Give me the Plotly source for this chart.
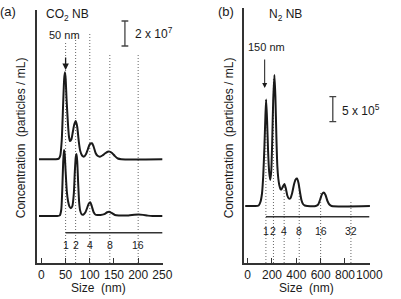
import plotly.graph_objects as go

W, H = 401, 299
FONT = "Arial, Liberation Sans, sans-serif"
INK = "#1a1a1a"

# ---------------- data: panel (a) CO2 NB (values in 1e7 particles/mL) -------
a_upper_size = [-5, 30, 36, 39, 42, 45, 47, 48.6, 50, 52, 54.6, 57, 59, 62, 65, 68, 71,
                74, 77, 80, 84, 88, 92, 96, 100, 104.6, 108, 112, 116, 121, 126, 132,
                137, 141, 146, 152, 158, 165, 250]
a_upper_conc = [0, 0, 0.05, 0.3, 1.5, 4.5, 6.4, 6.96, 6.5, 4.8, 3.0, 1.8, 1.46, 1.6, 2.2,
                2.8, 3.06, 2.6, 1.5, 0.7, 0.3, 0.21, 0.4, 0.8, 1.2, 1.28, 1.0, 0.5, 0.28,
                0.21, 0.3, 0.48, 0.6, 0.61, 0.5, 0.25, 0.06, 0, 0]
a_lower_size = [-5, 32, 38, 41, 43, 45, 46.6, 48, 50, 52.6, 55, 58, 61, 64, 67, 69, 71,
                72.6, 74, 76, 78, 80, 83, 87, 91, 95, 98, 101, 104, 108, 112, 116, 122,
                130, 136, 140, 145, 152, 160, 180, 192, 201, 210, 220, 230, 250]
a_lower_conc = [0, 0, 0.05, 0.5, 2.0, 4.3, 5.28, 5.0, 3.6, 1.94, 1.2, 0.75, 0.62, 0.8, 1.8,
                3.5, 4.7, 4.96, 4.4, 2.6, 1.1, 0.45, 0.14, 0.12, 0.3, 0.7, 1.0, 1.1, 0.8,
                0.3, 0.1, 0.08, 0.08, 0.15, 0.3, 0.34, 0.25, 0.08, 0.04, 0.05, 0.1, 0.12,
                0.09, 0.03, 0, 0]
a_offset = 4.54  # vertical stacking offset of the upper trace (1e7)
a_guide_sizes = [50, 70.7, 100, 141.4, 200]
a_guide_tops = [13.84, 14.64, 14.64, 12.88, 12.88]
a_guide_labels = ["1", "2", "4", "8", "16"]
a_ticks = [0, 50, 100, 150, 200, 250]

# ---------------- data: panel (b) N2 NB (values in 1e5 particles/mL) --------
b_size = [-20, 60, 90, 105, 118, 128, 138, 146, 152, 160, 168, 177, 186, 194, 202, 210,
          220, 228, 236, 244, 252, 260, 270, 278, 290, 302, 314, 326, 338, 350, 366,
          380, 394, 406, 418, 430, 442, 455, 470, 490, 560, 580, 596, 612, 626, 640,
          656, 672, 690, 1010]
b_conc = [0, 0, 0.1, 0.8, 2.5, 6, 12, 18, 21.3, 17, 11, 6.8, 5.2, 7, 13, 21, 26.2, 22,
          14, 8, 5.5, 4.2, 3.4, 3.3, 3.9, 4.4, 3.5, 2.1, 1.5, 1.5, 2.6, 4.2, 5.3, 5.5,
          4.6, 2.8, 1.2, 0.4, 0.1, 0, 0, 0.3, 1.3, 2.4, 2.7, 2.2, 1.0, 0.3, 0, 0]
b_guide_sizes = [150, 212, 300, 424, 600, 849]
b_guide_tops = [21.2, 25.6, 4.4, 4.0, 2.6, 1.2]
b_guide_labels = ["1", "2", "4", "8", "16", "32"]
b_ticks = [0, 200, 400, 600, 800, 1000]

A, B = 1e7, 1e5
ya_range = [-3.76 * A, 16.48 * A]
yb_range = [-11.4 * B, 39.54 * B]


def px(x):
    return x / W


def py(y):
    return 1 - y / H


fig = go.Figure()
fig.add_trace(go.Scatter(x=a_upper_size, y=[(v + a_offset) * A for v in a_upper_conc],
                         mode="lines", line=dict(color=INK, width=2, shape="spline", smoothing=0.6),
                         xaxis="x", yaxis="y", hoverinfo="skip"))
fig.add_trace(go.Scatter(x=a_lower_size, y=[v * A for v in a_lower_conc],
                         mode="lines", line=dict(color=INK, width=2, shape="spline", smoothing=0.6),
                         xaxis="x", yaxis="y", hoverinfo="skip"))
fig.add_trace(go.Scatter(x=b_size, y=[v * B for v in b_conc],
                         mode="lines", line=dict(color=INK, width=2, shape="spline", smoothing=0.6),
                         xaxis="x2", yaxis="y2", hoverinfo="skip"))

shapes = []
annos = []
GUIDE = dict(color="#666", width=1, dash="1px,2px")
# guide lines
for s, t in zip(a_guide_sizes, a_guide_tops):
    shapes.append(dict(type="line", xref="x", yref="y", x0=s, x1=s, y0=ya_range[0], y1=t * A,
                       line=GUIDE, layer="below"))
for s, t in zip(b_guide_sizes, b_guide_tops):
    shapes.append(dict(type="line", xref="x2", yref="y2", x0=s, x1=s, y0=yb_range[0], y1=t * B,
                       line=GUIDE, layer="below"))
# multiplicity bars
shapes.append(dict(type="line", xref="x", yref="y", x0=a_guide_sizes[0], x1=250,
                   y0=-1.34 * A, y1=-1.34 * A, line=dict(color="#333", width=1.5)))
shapes.append(dict(type="line", xref="x2", yref="y2", x0=b_guide_sizes[0], x1=1000,
                   y0=-2.14 * B, y1=-2.14 * B, line=dict(color="#333", width=1.5)))
for s, lab in zip(a_guide_sizes, a_guide_labels):
    annos.append(dict(x=s, y=-2.3 * A, xref="x", yref="y", text=lab, showarrow=False,
                      font=dict(size=10.5, color=INK, family=FONT)))
for s, lab in zip(b_guide_sizes, b_guide_labels):
    annos.append(dict(x=s, y=-5.1 * B, xref="x2", yref="y2", text=lab, showarrow=False,
                      font=dict(size=10.5, color=INK, family=FONT)))

# scale bars
def scalebar(xref, yref, x, y0, y1, half):
    shapes.append(dict(type="line", xref=xref, yref=yref, x0=x, x1=x, y0=y0, y1=y1,
                       line=dict(color="#444", width=1.3)))
    for yy in (y0, y1):
        shapes.append(dict(type="line", xref=xref, yref=yref, x0=x - half, x1=x + half,
                           y0=yy, y1=yy, line=dict(color="#444", width=1.3)))

scalebar("x", "y", 172.6, 13.6 * A, 15.6 * A, 7)
scalebar("x2", "y2", 700, 16.86 * B, 21.86 * B, 28)
annos.append(dict(x=189, y=14.6 * A, xref="x", yref="y", xanchor="left",
                  text="2 x 10<sup>7</sup>", showarrow=False,
                  font=dict(size=12, color=INK, family=FONT)))
annos.append(dict(x=760, y=19.2 * B, xref="x2", yref="y2", xanchor="left",
                  text="5 x 10<sup>5</sup>", showarrow=False,
                  font=dict(size=12, color=INK, family=FONT)))

# arrows
annos.append(dict(x=50, y=11.68 * A, xref="x", yref="y", ax=0, ay=-14, text="",
                  showarrow=True, arrowhead=2, arrowsize=1, arrowwidth=1.3, arrowcolor=INK))
annos.append(dict(x=140, y=23.6 * B, xref="x2", yref="y2", ax=0, ay=-30, text="",
                  showarrow=True, arrowhead=2, arrowsize=1, arrowwidth=1, arrowcolor=INK))

# texts in pixel positions
def txt(x, y, s, size=12, angle=0):
    annos.append(dict(x=px(x), y=py(y), xref="paper", yref="paper", text=s, showarrow=False,
                      textangle=angle, xanchor="center", yanchor="middle",
                      font=dict(size=size, color=INK, family=FONT)))

txt(8, 12, "(a)", 13)
txt(234, 12, "(b)", 13)
txt(70, 15, "CO<sub>2</sub> NB", 12)
txt(295, 15, "N<sub>2</sub> NB", 12)
txt(66.7, 35, "50 nm", 11)
txt(275.5, 47, "150 nm", 11)
txt(22, 138, "Concentration  (particles / mL)", 12, -90)
txt(237, 138, "Concentration  (particles / mL)", 12, -90)
txt(102, 288, "Size  (nm)", 12)
txt(317, 288, "Size  (nm)", 12)

axis_common = dict(showgrid=False, zeroline=False, showline=True, linecolor="#333", linewidth=1.5)
fig.update_layout(
    width=W, height=H, margin=dict(l=0, r=0, t=0, b=0),
    paper_bgcolor="white", plot_bgcolor="white", showlegend=False,
    font=dict(family=FONT, size=12, color=INK),
    xaxis=dict(domain=[38.3 / W, 168.3 / W], range=[-9, 251], tickvals=a_ticks,
               ticks="inside", ticklen=5, tickcolor="#333", tickwidth=1.3, tickangle=0,
               tickfont=dict(size=12, color=INK, family=FONT), anchor="y", **axis_common),
    yaxis=dict(domain=[py(263), py(10)], range=ya_range, showticklabels=False, ticks="",
               anchor="x", **axis_common),
    xaxis2=dict(domain=[252.3 / W, 382.3 / W], range=[-29, 1005], tickvals=b_ticks,
                ticks="inside", ticklen=5, tickcolor="#333", tickwidth=1.3, tickangle=0,
                tickfont=dict(size=12, color=INK, family=FONT), anchor="y2", **axis_common),
    yaxis2=dict(domain=[py(263), py(8.3)], range=yb_range, showticklabels=False, ticks="",
                anchor="x2", **axis_common),
    shapes=shapes, annotations=annos,
)

fig.write_html("out.html", config={"displayModeBar": False})
